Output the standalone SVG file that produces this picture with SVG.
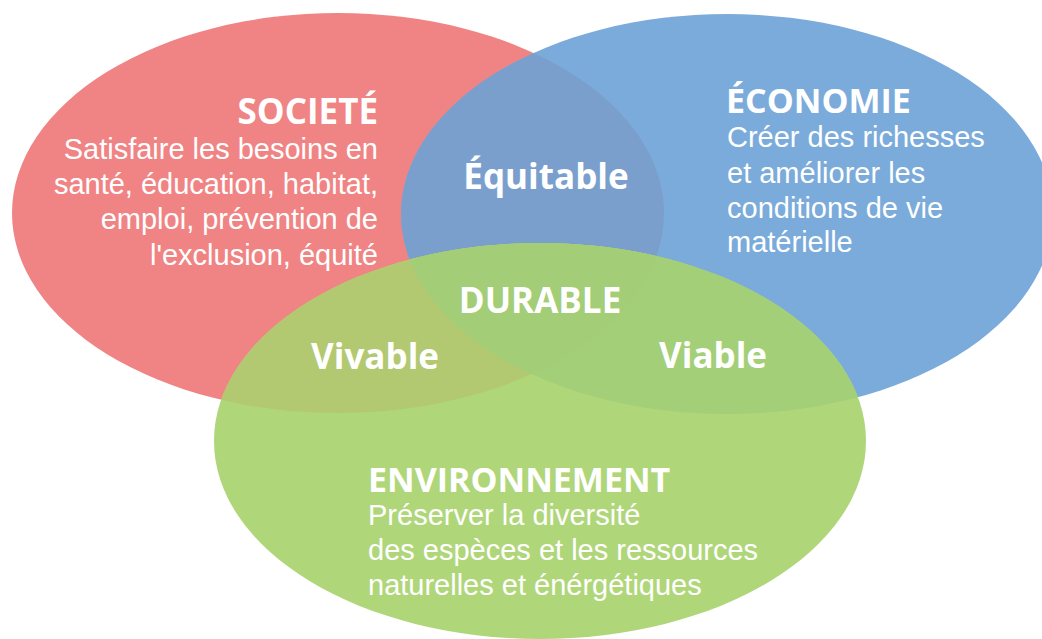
<svg xmlns="http://www.w3.org/2000/svg" width="1042" height="639" viewBox="0 0 1042 639">
<style>
.t{fill:#ffffff;font-family:"Liberation Sans",Arial,sans-serif;font-size:29px}
.h{fill:#ffffff;font-family:"Open Sans","DejaVu Sans",sans-serif;font-weight:bold;font-size:35px}
.s{font-size:34px}
.r{text-anchor:end}
.m{text-anchor:middle}
</style>
<defs>
<ellipse id="eR" cx="338" cy="213" rx="326" ry="200"/>
<ellipse id="eB" cx="727" cy="214" rx="326" ry="200"/>
<ellipse id="eG" cx="540" cy="441" rx="326" ry="198"/>
<clipPath id="cR"><use href="#eR"/></clipPath>
<clipPath id="cB"><use href="#eB"/></clipPath>
</defs>
<rect width="1042" height="639" fill="#ffffff"/>
<g id="societe">
<use href="#eR" fill="#F08484"/>
</g>
<g id="economie">
<use href="#eB" fill="#7BABDA"/>
<use href="#eB" fill="#7B9FCD" clip-path="url(#cR)"/>
</g>
<g id="environnement">
<use href="#eG" fill="#B0D67A"/>
<use href="#eG" fill="#B2C971" clip-path="url(#cR)"/>
<use href="#eG" fill="#A3CF78" clip-path="url(#cB)"/>
<g clip-path="url(#cR)"><use href="#eG" fill="#A3CD77" clip-path="url(#cB)"/></g>
</g>
<g id="connectors"/>
<g id="societe-text">
<text class="h r" x="378" y="124">SOCIETÉ</text>
<text class="t r" x="378" y="159">Satisfaire les besoins en</text>
<text class="t r" x="378" y="194">santé, éducation, habitat,</text>
<text class="t r" x="378" y="229">emploi, prévention de</text>
<text class="t r" x="378" y="265">l'exclusion, équité</text>
</g>
<g id="economie-text">
<text class="h s" x="726" y="113">ÉCONOMIE</text>
<text class="t" x="727" y="147">Créer des richesses</text>
<text class="t" x="727" y="183">et améliorer les</text>
<text class="t" x="727" y="218">conditions de vie</text>
<text class="t" x="727" y="252">matérielle</text>
</g>
<g id="environnement-text">
<text class="h s" x="368" y="492">ENVIRONNEMENT</text>
<text class="t" x="368" y="525">Préserver la diversité</text>
<text class="t" x="368" y="560">des espèces et les ressources</text>
<text class="t" x="368" y="595">naturelles et énérgétiques</text>
</g>
<g id="equitable"><text class="h m" x="546" y="189">Équitable</text></g>
<g id="durable"><text class="h m" x="540" y="313">DURABLE</text></g>
<g id="vivable"><text class="h m" x="375" y="369">Vivable</text></g>
<g id="viable"><text class="h m" x="713" y="368">Viable</text></g>
</svg>
